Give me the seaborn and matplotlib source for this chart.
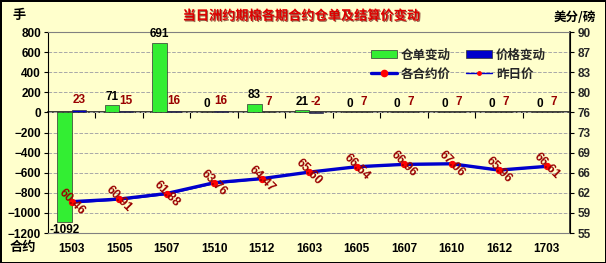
import numpy as np
import pandas as pd
import matplotlib
matplotlib.use('Agg')
import matplotlib.pyplot as plt
import seaborn as sns
from matplotlib.lines import Line2D
from matplotlib.patches import Patch
import matplotlib.patheffects as pe

contracts = ['1503', '1505', '1507', '1510', '1512', '1603', '1605', '1607', '1610', '1612', '1703']
receipt_change = [-1092, 71, 691, 0, 83, 21, 0, 0, 0, 0, 0]
price_change = [23, 15, 16, 16, 7, -2, 7, 7, 7, 7, 7]
settle_price = [60.46, 60.91, 61.88, 63.76, 64.47, 65.60, 66.54, 66.96, 67.06, 65.96, 66.61]
prev_price = [60.23, 60.76, 61.72, 63.60, 64.40, 65.62, 66.47, 66.89, 66.99, 65.89, 66.54]
left_ticks = [-1200, -1000, -800, -600, -400, -200, 0, 200, 400, 600, 800]
right_ticks = [55, 58.5, 62, 65.5, 69, 72.5, 76, 79.5, 83, 86.5, 90]
right_ticklabels = ['55', '59', '62', '66', '69', '73', '76', '80', '83', '87', '90']
series_names = ['仓单变动', '价格变动']
line_names = ['各合约价', '昨日价']
title = '当日洲约期棉各期合约仓单及结算价变动'

sns.set_theme(style='white')
plt.rcParams['font.family'] = ['Noto Sans CJK SC', 'DejaVu Sans']
num_font = 'Liberation Sans'
bg = '#ffffcc'
green = '#33ee33'
blue = '#0000cc'
dark_red = '#990000'

fig = plt.figure(figsize=(6.06, 2.63), dpi=100, facecolor=bg)
fig.patch.set_edgecolor('black')
fig.patch.set_linewidth(2)
ax = fig.add_axes([0.079, 0.114, 0.862, 0.764])
ax.set_facecolor(bg)

df = pd.DataFrame({
    'contract': contracts * 2,
    'series': [series_names[0]] * len(contracts) + [series_names[1]] * len(contracts),
    'value': receipt_change + price_change,
})
sns.barplot(data=df, x='contract', y='value', hue='series', hue_order=series_names,
            palette=[green, blue], width=0.6, gap=0, dodge=True, saturation=1,
            errorbar=None, legend=False, edgecolor='#333333', linewidth=0.5, ax=ax)

ax.set_xlim(-0.5, len(contracts) - 0.5)
ax.set_ylim(left_ticks[0], left_ticks[-1])
ax.set_yticks(left_ticks)
ax.set_xlabel('')
ax.set_ylabel('')
ax.yaxis.grid(True, ls='--', color='#a8a8a8', lw=0.7)
ax.set_axisbelow(True)
ax.tick_params(axis='y', direction='out', length=3, color='black', left=True, width=0.8, pad=2)
ax.tick_params(axis='x', length=0, pad=7)
for lab in ax.get_yticklabels() + ax.get_xticklabels():
    lab.set_fontfamily(num_font)
    lab.set_fontweight('bold')
    lab.set_fontsize(8.5)
    lab.set_color('black')
for s in ['top', 'bottom']:
    ax.spines[s].set_color('#808080')
    ax.spines[s].set_linewidth(0.8)
ax.spines['left'].set_color('black')
ax.spines['left'].set_linewidth(0.8)

# bar labels
green_bars = ax.containers[0]
blue_bars = ax.containers[1]
for bar, v in zip(green_bars, receipt_change):
    x = bar.get_x() + bar.get_width() / 2
    if v >= 0:
        ax.annotate(str(v), (x, v), xytext=(0, 2), textcoords='offset points',
                    ha='center', va='bottom', fontsize=8.5, fontweight='bold',
                    family=num_font, color='black')
    else:
        ax.annotate(str(v), (x, v), xytext=(0, -1), textcoords='offset points',
                    ha='center', va='top', fontsize=8.5, fontweight='bold',
                    family=num_font, color='black')
for bar, v in zip(blue_bars, price_change):
    x = bar.get_x() + bar.get_width() / 2
    ax.annotate(str(v), (x, max(v, 0)), xytext=(0, 3), textcoords='offset points',
                ha='center', va='bottom', fontsize=8.5, fontweight='bold',
                family=num_font, color=dark_red)

# zero axis with ticks between categories
sec = ax.secondary_xaxis(0.6)
sec.set_xticks(np.arange(0.5, len(contracts) - 0.5, 1))
sec.set_xticklabels([])
sec.tick_params(axis='x', direction='in', length=4, color='black', width=0.8)
sec.spines['bottom'].set_color('black')
sec.spines['bottom'].set_linewidth(1)

ax2 = ax.twinx()
ax2.set_ylim(right_ticks[0], right_ticks[-1])
idx = np.arange(len(contracts))
sns.lineplot(x=idx, y=prev_price, ax=ax2, color=blue, lw=1, marker='o', markersize=2.5,
             markerfacecolor='red', markeredgecolor='red', zorder=2)
sns.lineplot(x=idx, y=settle_price, ax=ax2, color=blue, lw=2.4, marker='o', markersize=4.5,
             markerfacecolor='red', markeredgecolor='red', zorder=3)
ax2.set_yticks(right_ticks)
ax2.set_yticklabels(right_ticklabels)
ax2.set_ylabel('')
ax2.tick_params(axis='y', direction='out', length=3, color='black', right=True, width=0.8, pad=2)
for lab in ax2.get_yticklabels():
    lab.set_fontfamily(num_font)
    lab.set_fontweight('bold')
    lab.set_fontsize(8.5)
ax2.spines['right'].set_color('black')
ax2.spines['right'].set_linewidth(0.8)
for s in ['top', 'bottom', 'left']:
    ax2.spines[s].set_visible(False)

for i, p in enumerate(settle_price):
    ax2.text(i, p, f'{p:.2f}', rotation=-45, rotation_mode='anchor', ha='center', va='center',
             color=dark_red, fontsize=9, fontweight='bold', family=num_font, zorder=5)

handles = [
    Patch(facecolor=green, edgecolor='#333333', linewidth=0.5),
    Line2D([0], [0], color=blue, lw=2.4, marker='o', markersize=4.5, markerfacecolor='red', markeredgecolor='red'),
    Patch(facecolor=blue, edgecolor='#333333', linewidth=0.5),
    Line2D([0], [0], color=blue, lw=1, marker='o', markersize=2.5, markerfacecolor='red', markeredgecolor='red'),
]
labels = [series_names[0], line_names[0], series_names[1], line_names[1]]
ax2.legend(handles, labels, ncol=2, loc='upper right', bbox_to_anchor=(0.975, 0.975),
           frameon=False, prop={'family': 'Noto Sans CJK SC', 'weight': 'bold', 'size': 9},
           handlelength=2.1, handleheight=0.6, columnspacing=1.2, labelspacing=0.5,
           handletextpad=0.3)

t = fig.text(0.498, 0.94, title, ha='center', va='center', color='#dd0000',
             fontsize=9.5, fontweight='bold')
t.set_path_effects([pe.withSimplePatchShadow(offset=(0.8, -0.8), shadow_rgbFace='#550000', alpha=0.6)])
fig.text(0.02, 0.943, '手', ha='left', va='center', fontsize=9.5, fontweight='bold', color='black')
fig.text(0.949, 0.935, '美分/磅', ha='center', va='center', fontsize=9, fontweight='bold', color='black')
fig.text(0.015, 0.061, '合约', ha='left', va='center', fontsize=9.5, fontweight='bold', color='black')

fig.savefig('out.png', dpi=100, facecolor=bg, edgecolor='black')
